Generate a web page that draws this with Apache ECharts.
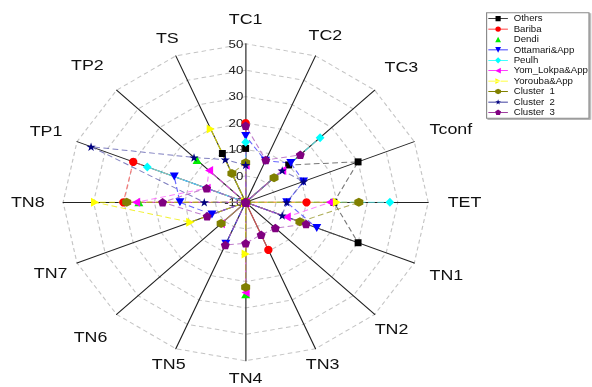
<!DOCTYPE html>
<html><head><meta charset="utf-8">
<script src="https://cdn.jsdelivr.net/npm/echarts@6/dist/echarts.min.js"></script>
<style>
html,body{margin:0;padding:0;background:#fff;overflow:hidden;}
#wrap{width:592px;height:387px;overflow:hidden;position:relative;background:#fff;}
#chart{width:520px;height:387px;transform:scaleX(1.1517);transform-origin:0 0;}
</style></head><body>
<div id="wrap"><div id="chart"></div></div>
<script>
// Axes in clockwise order starting at the top
const axes = ['TC1','TC2','TC3','Tconf','TET','TN1','TN2','TN3','TN4','TN5','TN6','TN7','TN8','TP1','TP2','TS'];
const axisMin = -10, axisMax = 50;
const seriesNames = ['Others','Bariba','Dendi','Ottamari&App','Peulh','Yom_Lokpa&App','Yorouba&App','Cluster  1','Cluster  2','Cluster  3'];
//                 TC1  TC2  TC3  Tconf TET  TN1  TN2  TN3  TN4  TN5  TN6  TN7  TN8  TP1  TP2  TS
const others   = [10.4, -10,  10,  30,  19,  30, -10, -10, -10, -10, -10, -10, -10, -10, -10,  10];
const bariba   = [20,  -10, -10, -10,  10, -10, -10, 9.5, -10, -10, -10, -10, 30.2, 30, -10, -10];
const dendi    = [-10, -10, -10, -10, -10, -10, -10, -10, 24.8,-10, -10, -10, 25.1,-10, 12.6,-10];
const ottamari = [15.1,  7,  11, 10.6, 3.5, 15.3,-10, -10, -10,   7, -10,   2, 11.6,15.4,-10, -10];
const peulh    = [12.7,-10, 24.6,-10, 37.4,-10, -10, -10, -10, -10, -10, -10, -10,  25, -10, -10];
const yomLokpa = [4,   -10,   7, -10, 17.7, 4.6,-10, -10, 24.1,-10, 1.5, -10,  26, 3.9,   7, -10];
const yorouba  = [-10, -10, -10, -10,  20, -10, -10, -10, 9.6, -10, -10, 9.7, 39.5,-10, -10,  20];
const cluster1 = [5,   -10, 3.2, -10, 27.2, 9.3,-10, -10, 22.2,-10, 1.4, -10, 29.1,-10, -10, 1.8];
const cluster2 = [4.1, -10,   7, 10.6, 3.5,   3,-10, -10, -10, -10, -10, -10, 3.6,  45,  14, 7.5];
const cluster3 = [19,  7.3, 15.4,-10, -10, 11.5, 3.8, 3.3, 5.5, 7.5, -10, 3.7, 17.3, 3.9,-10, -10];
const seriesValues = [others,bariba,dendi,ottamari,peulh,yomLokpa,yorouba,cluster1,cluster2,cluster3];

// styles
const colors = ['#000000','#ff0000','#00ee00','#0000ff','#00ffff','#ff00ff','#ffff00','#808000','#000080','#800080'];
const lineColors = ['#555555','#ff6060','#00ee00','#4040ff','#60ffff','#ff60ff','#eeee00','#9a9a30','#6060b0','#b060c0'];
const showLine = [true,true,false,true,true,true,true,true,true,true];
const chartSymbols = [
  'rect','circle','triangle',
  'path://M0,0 L100,0 L50,100 Z',
  'diamond',
  'path://M100,0 L100,100 L0,50 Z',
  'path://M0,0 L0,100 L100,50 Z',
  'path://M50,0 L93.3,25 L93.3,75 L50,100 L6.7,75 L6.7,25 Z',
  'path://M50,0 L61.2,34.5 L97.6,34.5 L68.2,55.9 L79.4,90.5 L50,69.1 L20.6,90.5 L31.8,55.9 L2.4,34.5 L38.8,34.5 Z',
  'path://M50,0 L97.6,34.5 L79.4,90.5 L20.6,90.5 L2.4,34.5 Z'
];
const chartSymbolSizes = [[6,7],[7.2,8.3],[7.8,8],[7.8,8],[7.6,9],[7,9],[7,9],[7.8,9],[8,8.5],[7.8,8.5]];
const legendMarks = [
  'M92,12 L158,12 L158,88 L92,88 Z',
  'M90,50 A35,40 0 1,1 160,50 A35,40 0 1,1 90,50 Z',
  'M88,90 L162,90 L125,8 Z',
  'M88,10 L162,10 L125,92 Z',
  'M125,4 L165,50 L125,96 L85,50 Z',
  'M160,8 L160,92 L88,50 Z',
  'M90,8 L90,92 L162,50 Z',
  'M125,8 L161,29 L161,71 L125,92 L89,71 L89,29 Z',
  'M125,8 L133.7,36.2 L159.7,37 L139.1,55.3 L146.5,84 L125,67 L103.5,84 L110.9,55.3 L90.3,37 L116.3,36.2 Z',
  'M125,8 L163,38 L149,90 L101,90 L87,38 Z'
];
const legendLine = 'M0,44 L250,44 L250,56 L0,56 Z ';
// gap from the outer ring to each axis name centre (clockwise order)
const nameGaps = [25,22.5,32.7,34.4,31.5,30.1,20.6,16.3,17.5,16.1,32,24.8,30.7,29.1,35.8,19.2];

// ECharts radar runs counter-clockwise; reorder so axes appear clockwise
const order = axes.map((_, i) => (axes.length - i) % axes.length);
const reorder = arr => order.map(i => arr[i]);

const indicator = order.map((i, k) => {
  const o = {name: axes[i], min: axisMin, max: axisMax, nameGap: nameGaps[i]};
  if (k === 0) o.axisLabel = {show: true};
  return o;
});

const chart = echarts.init(document.getElementById('chart'), null, {renderer: 'svg'});
chart.setOption({
  backgroundColor: '#fff',
  animation: false,
  legend: {
    orient: 'vertical', left: 422.5, top: 12.7,
    itemWidth: 17, itemHeight: 8, itemGap: 0.4,
    padding: [1, 1, 1, 1.5],
    borderColor: '#8a8a8a', borderWidth: 1, backgroundColor: '#fff',
    shadowColor: 'rgba(0,0,0,0.35)', shadowOffsetX: 1.2, shadowOffsetY: 1, shadowBlur: 0,
    selectedMode: false,
    textStyle: {fontFamily: 'Liberation Sans', fontSize: 8.4, lineHeight: 10, color: '#111'},
    data: seriesNames.map((n, i) => ({
      name: n,
      icon: 'path://' + (showLine[i] ? legendLine : 'M0,50 L0.1,50 L0.1,50.1 Z M249.9,50 L250,50 L250,50.1 Z ') + legendMarks[i],
      itemStyle: {color: colors[i]}
    }))
  },
  radar: {
    center: [213.3, 202.3],
    radius: 158.5,
    startAngle: 90,
    splitNumber: 6,
    shape: 'polygon',
    indicator: indicator,
    axisName: {color: '#111', fontFamily: 'Liberation Sans', fontSize: 15.5, align: 'center', verticalAlign: 'middle'},
    axisLine: {show: true, lineStyle: {color: '#222', width: 1}},
    axisTick: {show: false},
    axisLabel: {show: false, color: '#222', fontFamily: 'Liberation Sans', fontSize: 11.5, margin: 2, showMinLabel: true, showMaxLabel: true},
    splitLine: {show: true, lineStyle: {color: '#c4c4c4', width: 1, type: [4, 3]}},
    splitArea: {show: false}
  },
  series: [{
    type: 'radar',
    data: seriesNames.map((n, i) => ({
      name: n,
      value: reorder(seriesValues[i]),
      symbol: chartSymbols[i],
      symbolSize: chartSymbolSizes[i],
      itemStyle: {color: colors[i], opacity: 1},
      lineStyle: {color: lineColors[i], width: 1, type: [5, 3], opacity: showLine[i] ? 0.8 : 0}
    }))
  }]
});
</script>
</body></html>
